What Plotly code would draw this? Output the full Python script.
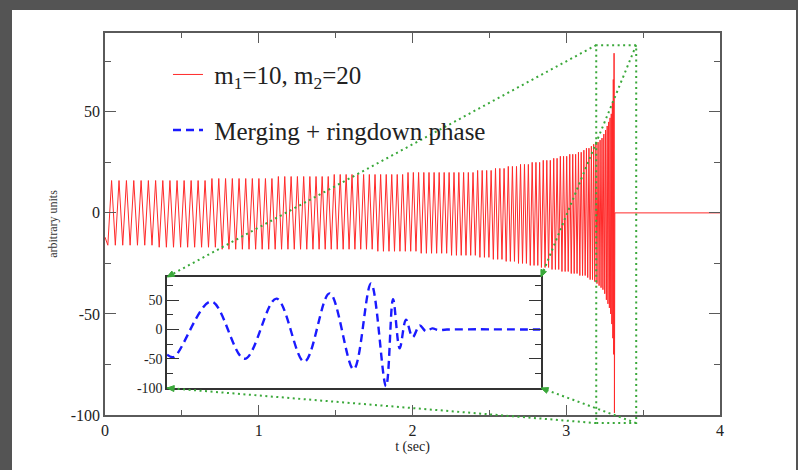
import math
import plotly.graph_objects as go

# ---------------- data ----------------
# Inspiral signal m1=10, m2=20: time (s) of each successive extremum and its value
red_t = [
    0.0000, 0.0185, 0.0428, 0.0671, 0.0912, 0.1153, 0.1394, 0.1633, 0.1872, 0.2111,
    0.2348, 0.2585, 0.2821, 0.3057, 0.3292, 0.3526, 0.3760, 0.3992, 0.4224, 0.4456,
    0.4687, 0.4917, 0.5146, 0.5374, 0.5602, 0.5830, 0.6056, 0.6282, 0.6507, 0.6731,
    0.6955, 0.7178, 0.7400, 0.7622, 0.7842, 0.8062, 0.8282, 0.8500, 0.8718, 0.8935,
    0.9152, 0.9368, 0.9583, 0.9797, 1.0010, 1.0223, 1.0435, 1.0647, 1.0857, 1.1067,
    1.1276, 1.1484, 1.1692, 1.1899, 1.2105, 1.2310, 1.2515, 1.2719, 1.2922, 1.3124,
    1.3325, 1.3526, 1.3726, 1.3925, 1.4124, 1.4322, 1.4519, 1.4715, 1.4910, 1.5105,
    1.5298, 1.5491, 1.5684, 1.5875, 1.6066, 1.6255, 1.6445, 1.6633, 1.6820, 1.7007,
    1.7193, 1.7378, 1.7562, 1.7745, 1.7928, 1.8110, 1.8291, 1.8471, 1.8650, 1.8829,
    1.9006, 1.9183, 1.9359, 1.9534, 1.9709, 1.9882, 2.0055, 2.0226, 2.0397, 2.0567,
    2.0737, 2.0905, 2.1073, 2.1239, 2.1405, 2.1570, 2.1734, 2.1897, 2.2059, 2.2221,
    2.2381, 2.2541, 2.2699, 2.2857, 2.3014, 2.3170, 2.3325, 2.3479, 2.3632, 2.3785,
    2.3936, 2.4087, 2.4236, 2.4385, 2.4533, 2.4679, 2.4825, 2.4970, 2.5114, 2.5257,
    2.5399, 2.5540, 2.5680, 2.5819, 2.5957, 2.6094, 2.6230, 2.6365, 2.6499, 2.6632,
    2.6764, 2.6895, 2.7026, 2.7155, 2.7283, 2.7410, 2.7535, 2.7660, 2.7784, 2.7907,
    2.8029, 2.8149, 2.8269, 2.8387, 2.8504, 2.8621, 2.8736, 2.8850, 2.8963, 2.9075,
    2.9185, 2.9295, 2.9403, 2.9510, 2.9616, 2.9721, 2.9825, 2.9927, 3.0029, 3.0129,
    3.0228, 3.0325, 3.0422, 3.0517, 3.0610, 3.0703, 3.0794, 3.0884, 3.0973, 3.1060,
    3.1146, 3.1231, 3.1314, 3.1396, 3.1476, 3.1556, 3.1633, 3.1709, 3.1784, 3.1857,
    3.1929, 3.1999, 3.2068, 3.2135, 3.2200, 3.2264, 3.2326, 3.2386, 3.2445, 3.2502,
    3.2557, 3.2611, 3.2662, 3.2712, 3.2759, 3.2805, 3.2848, 3.2890, 3.2929, 3.2965,
    3.3000, 3.3031, 3.3060, 3.3085, 3.3110, 3.3135, 3.3160, 4.0000,
]
red_y = [
    -12, -16, 16, -16, 16, -16, 16, -16, 16, -16,
    16, -16, 16, -16, 16, -17, 16, -17, 16, -17,
    16, -17, 16, -17, 16, -17, 16, -17, 16, -17,
    17, -17, 17, -18, 17, -18, 17, -18, 17, -18,
    17, -18, 17, -18, 17, -18, 17, -18, 17, -18,
    18, -18, 18, -18, 18, -18, 18, -18, 18, -18,
    18, -18, 18, -18, 18, -18, 18, -18, 19, -18,
    19, -18, 19, -18, 19, -18, 19, -18, 19, -18,
    19, -18, 19, -19, 19, -19, 19, -19, 19, -19,
    19, -19, 19, -19, 20, -19, 20, -19, 20, -20,
    20, -20, 20, -20, 20, -20, 20, -20, 20, -20,
    20, -21, 20, -21, 20, -21, 20, -21, 20, -21,
    20, -21, 21, -22, 21, -22, 21, -22, 21, -23,
    22, -23, 22, -23, 22, -24, 23, -24, 23, -24,
    23, -25, 24, -25, 24, -25, 24, -26, 25, -26,
    25, -26, 25, -27, 26, -27, 26, -27, 26, -28,
    27, -28, 27, -28, 28, -29, 28, -29, 28, -29,
    29, -30, 29, -30, 29, -30, 30, -31, 30, -31,
    31, -31, 32, -32, 32, -33, 33, -33, 34, -34,
    35, -35, 35, -36, 36, -37, 37, -38, 39, -40,
    41, -43, 43, -45, 45, -47, 47, -50, 49, -55,
    55, -62, 66, -70, 79, -99, 0, 0,
]

# Merging + ringdown phase (inset): time (s) and value at each extremum
blue_t = [3.1950, 3.1996, 3.2256, 3.2489, 3.2710, 3.2904, 3.3080, 3.3247, 3.3368, 3.3472,
          3.3521, 3.3567, 3.3611, 3.3657, 3.3706, 3.3750, 3.3794, 3.3836, 3.3896, 3.4544]
blue_y = [-43, -47, 48, -50, 53, -55, 62, -68, 79, -97,
          52, -32, 17, -13, 7, -3, 2, -1, 0, 0]

main_x_range = [0, 4]
main_x_ticks = [0, 1, 2, 3, 4]
main_y_range = [-100, 89]
main_y_ticks = [-100, -50, 0, 50]
inset_x_range = [3.195, 3.455]
inset_y_range = [-100, 90]
inset_y_ticks = [-100, -50, 0, 50]
zoom_box_t = [3.195, 3.455]
zoom_box_y = [-104, 83]
inset_dom_x = [0.101, 0.709]
inset_dom_y = [0.0707, 0.3613]

legend_red = "\u00a0m<sub>1</sub>=10, m<sub>2</sub>=20"
legend_blue = "\u00a0Merging + ringdown phase"

# ---------------- figure ----------------
SERIF = "Liberation Serif, Times New Roman, serif"
GREEN = "#3aa83a"
AX = "#5a5a5a"
W, H = 798, 470
ML, MR, MT, MB = 105, 78, 33, 55
PW, PH = W - ML - MR, H - MT - MB

fig = go.Figure()
fig.add_trace(go.Scatter(
    x=red_t, y=red_y, mode="lines", name=legend_red, legendgroup="a",
    line=dict(color="#ff2a2a", width=1), xaxis="x", yaxis="y",
))
fig.add_trace(go.Scatter(
    x=blue_t, y=blue_y, mode="lines", name=legend_blue, legendgroup="b",
    line=dict(color="#1a1aff", width=2.4, dash="8px,5px", shape="spline", smoothing=1.0),
    xaxis="x2", yaxis="y2",
))


def px(t):
    return (t - main_x_range[0]) / (main_x_range[1] - main_x_range[0])


def py(v):
    return (v - main_y_range[0]) / (main_y_range[1] - main_y_range[0])


shapes = []
# page frame: dark grey border, white sheet
shapes.append(dict(type="rect", xref="paper", yref="paper", layer="below",
                   x0=(12 - ML) / PW, x1=(796 - ML) / PW,
                   y0=-(MB + 20) / PH, y1=(PH + MT - 10) / PH,
                   fillcolor="white", line=dict(width=0)))

dot = dict(color=GREEN, width=2, dash="2px,3.5px")
bx0, bx1 = px(zoom_box_t[0]), px(zoom_box_t[1])
by0, by1 = py(zoom_box_y[0]), py(zoom_box_y[1])
shapes.append(dict(type="rect", xref="paper", yref="paper", x0=bx0, x1=bx1, y0=by0, y1=by1,
                   line=dot, fillcolor="rgba(0,0,0,0)"))
ix0, ix1 = inset_dom_x
iy0, iy1 = inset_dom_y
pairs = [((bx0, by1), (ix0, iy1)), ((bx1, by1), (ix1, iy1)),
         ((bx0, by0), (ix0, iy0)), ((bx1, by0), (ix1, iy0))]
for (a, b) in pairs:
    shapes.append(dict(type="line", xref="paper", yref="paper",
                       x0=a[0], y0=a[1], x1=b[0], y1=b[1], line=dot))
    # small arrow head at the inset corner
    dxp = (a[0] - b[0]) * PW
    dyp = (a[1] - b[1]) * PH
    L = math.hypot(dxp, dyp)
    ux, uy = dxp / L, dyp / L
    bxp, byp = 7 * ux, 7 * uy
    nx, ny = -uy * 3, ux * 3
    p1 = (b[0] + (bxp + nx) / PW, b[1] + (byp + ny) / PH)
    p2 = (b[0] + (bxp - nx) / PW, b[1] + (byp - ny) / PH)
    shapes.append(dict(type="path", xref="paper", yref="paper",
                       path="M %.5f,%.5f L %.5f,%.5f L %.5f,%.5f Z" % (b[0], b[1], p1[0], p1[1], p2[0], p2[1]),
                       fillcolor=GREEN, line=dict(color=GREEN, width=1)))

fig.update_layout(
    width=W, height=H,
    margin=dict(l=ML, r=MR, t=MT, b=MB, autoexpand=False),
    paper_bgcolor="#545454",
    plot_bgcolor="white",
    font=dict(family=SERIF, color="#222"),
    shapes=shapes,
    showlegend=True,
    legend=dict(x=0.1024, y=0.951, xanchor="left", yanchor="top",
                bgcolor="rgba(0,0,0,0)", font=dict(family=SERIF, size=25, color="#222"),
                tracegroupgap=20, traceorder="grouped"),
    xaxis=dict(
        range=main_x_range, tickvals=main_x_ticks, ticktext=[str(v) for v in main_x_ticks],
        showgrid=False, zeroline=False,
        showline=True, linecolor=AX, linewidth=1.6, mirror="ticks",
        ticks="inside", ticklen=10, tickwidth=1.4, tickcolor=AX,
        minor=dict(dtick=0.5, tick0=0, ticks="inside", ticklen=5, tickwidth=1.2, tickcolor=AX),
        tickfont=dict(family=SERIF, size=16, color="#222"),
        title=dict(text="t (sec)", font=dict(family=SERIF, size=14, color="#222"), standoff=0),
        domain=[0, 1],
    ),
    yaxis=dict(
        range=main_y_range, tickvals=main_y_ticks, ticktext=[str(v) for v in main_y_ticks],
        showgrid=False, zeroline=False,
        showline=True, linecolor=AX, linewidth=1.6, mirror="ticks",
        ticks="inside", ticklen=11, tickwidth=1.4, tickcolor=AX,
        minor=dict(dtick=25, tick0=0, ticks="inside", ticklen=6, tickwidth=1.2, tickcolor=AX),
        tickfont=dict(family=SERIF, size=16, color="#222"),
        title=dict(text="arbitrary units", font=dict(family=SERIF, size=12, color="#333"), standoff=10),
        domain=[0, 1],
    ),
    xaxis2=dict(
        domain=inset_dom_x, anchor="y2", range=inset_x_range,
        showticklabels=False, ticks="", showgrid=False, zeroline=False,
        showline=True, linecolor="#333", linewidth=1.5, mirror=True,
    ),
    yaxis2=dict(
        domain=inset_dom_y, anchor="x2", range=inset_y_range,
        tickvals=inset_y_ticks, ticktext=[str(v) for v in inset_y_ticks],
        showgrid=False, zeroline=False, showline=True, linecolor="#333", linewidth=1.5,
        mirror="ticks", ticks="inside", ticklen=12, tickwidth=1.3, tickcolor="#333",
        minor=dict(dtick=25, tick0=0, ticks="inside", ticklen=6, tickwidth=1.1, tickcolor="#333"),
        tickfont=dict(family=SERIF, size=14, color="#222"), ticklabelstandoff=0,
    ),
)

fig.write_html("out.html")
